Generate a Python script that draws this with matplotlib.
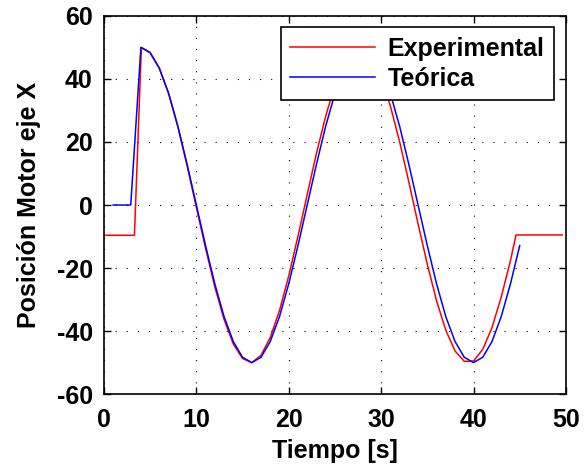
import matplotlib
matplotlib.use("Agg")
import matplotlib.pyplot as plt

# Teórica (blue)
t_teo = [1, 2.9] + list(range(4, 46))
y_teo = [0, 0,
         50, 48.3, 43.3, 35.4, 25.0, 12.9, 0.0, -12.9, -25.0, -35.4, -43.3, -48.3,
         -50.0, -48.3, -43.3, -35.4, -25.0, -12.9, 0.0, 12.9, 25.0, 35.4, 43.3, 48.3,
         50.0, 48.3, 43.3, 35.4, 25.0, 12.9, 0.0, -12.9, -25.0, -35.4, -43.3, -48.3,
         -50.0, -48.3, -43.3, -35.4, -25.0, -12.9]

# Experimental (red)
t_exp = [0, 3.3, 4.05] + list(range(5, 45)) + [44.6, 49.6]
y_exp = [-9.6, -9.6, 50.0,
         48.4, 43.4, 35.4, 24.8, 12.5, -0.7, -13.8, -26.0, -36.3, -44.1, -48.7,
         -50.0, -47.7, -42.0, -33.5, -22.5, -9.9, 3.3, 16.4, 28.2, 38.1, 45.2, 49.3,
         49.8, 46.8, 40.6, 31.4, 20.1, 7.3, -6.0, -18.8, -30.4, -39.7, -46.3, -49.6,
         -49.5, -45.8, -38.9, -29.2, -17.6,
         -9.5, -9.5]

x_ticks = [0, 10, 20, 30, 40, 50]
y_ticks = [-60, -40, -20, 0, 20, 40, 60]

plt.rcParams['font.family'] = ['Liberation Sans', 'DejaVu Sans']
plt.rcParams['font.weight'] = 'bold'
plt.rcParams['axes.unicode_minus'] = False

fig = plt.figure(figsize=(5.84, 4.67), dpi=100)
ax = fig.add_axes([0.178, 0.156, 0.791, 0.81])

ax.plot(t_exp, y_exp, color='#ff0000', lw=1.1, label='Experimental')
ax.plot(t_teo, y_teo, color='#0000ff', lw=1.1, label='Teórica')

ax.set_xlim(0, 50)
ax.set_ylim(-60, 60)
ax.set_xticks(x_ticks)
ax.set_yticks(y_ticks)
ax.tick_params(direction='in', top=True, right=True, labelsize=18, length=5, width=1)
ax.tick_params(axis='x', pad=10)
ax.tick_params(axis='y', pad=8)
for lab in ax.get_xticklabels() + ax.get_yticklabels():
    lab.set_fontweight('bold')
ax.grid(True, color='black', linestyle=(0, (1, 9)), linewidth=0.8)
for s in ax.spines.values():
    s.set_linewidth(1.2)

ax.set_xlabel('Tiempo [s]', fontsize=18, fontweight='bold', labelpad=5)
ax.set_ylabel('Posición Motor eje X', fontsize=18, fontweight='bold', labelpad=11)

leg = ax.legend(loc='upper right', bbox_to_anchor=(0.974, 0.97), fontsize=18,
                handlelength=3.4, frameon=True, fancybox=False, borderpad=0.38,
                labelspacing=0.25, handletextpad=0.5, borderaxespad=0)
leg.get_frame().set_edgecolor('black')
leg.get_frame().set_linewidth(1.2)
leg.get_frame().set_alpha(1)
for txt in leg.get_texts():
    txt.set_fontweight('bold')

fig.savefig('out.png', dpi=100)
